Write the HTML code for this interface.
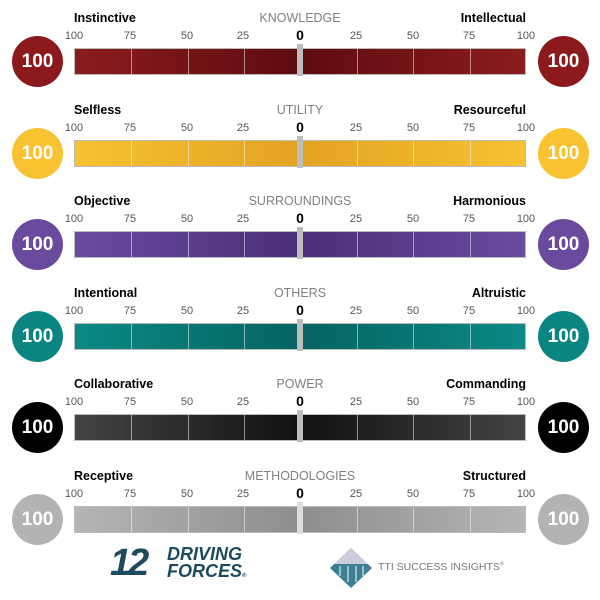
<!DOCTYPE html><html><head><style>
*{margin:0;padding:0}
body{width:600px;height:600px;background:#fff;position:relative;overflow:hidden;font-family:"Liberation Sans",Arial,sans-serif}
.r{position:absolute;left:0;width:600px;height:92px}
.c{position:absolute;top:10px;width:51px;height:51px;border-radius:50%;color:#fff;font-weight:bold;font-size:19px;line-height:51px;text-align:center}
.l{position:absolute;top:-15px;font-weight:bold;font-size:12.5px;color:#000}
.t{position:absolute;top:-15px;left:200px;width:200px;text-align:center;font-size:12.5px;color:#808080}
.k{position:absolute;top:4px;font-size:11px;color:#555;width:30px;margin-left:-15px;text-align:center}
.z{position:absolute;top:1px;left:290px;width:20px;text-align:center;font-weight:bold;font-size:14px}
.b{position:absolute;left:74px;top:22px;width:452px;height:27px;box-sizing:border-box;border:1px solid #bbb}
.g{position:absolute;top:0;width:1px;height:25px;background:rgba(255,255,255,.5)}
.m{position:absolute;left:297px;top:18px;width:6px;height:32px;background:#bdbdbd}
</style></head><body>

<div class="r" style="top:26px">
<div class="l" style="left:74px">Instinctive</div><div class="t">KNOWLEDGE</div><div class="l" style="right:74px">Intellectual</div>
<div class="k" style="left:74px">100</div><div class="k" style="left:130px">75</div><div class="k" style="left:187px">50</div><div class="k" style="left:243px">25</div><div class="z">0</div><div class="k" style="left:356px">25</div><div class="k" style="left:413px">50</div><div class="k" style="left:469px">75</div><div class="k" style="left:526px">100</div>
<div class="b" style="background:linear-gradient(90deg,#8a1c1e,#5e0c0f 50%,#8a1c1e)"><div class="g" style="left:56px"></div><div class="g" style="left:113px"></div><div class="g" style="left:169px"></div><div class="g" style="left:282px"></div><div class="g" style="left:338px"></div><div class="g" style="left:395px"></div></div>
<div class="m"></div>
<div class="c" style="left:12px;background:#8c1a1d">100</div><div class="c" style="left:538px;background:#8c1a1d">100</div></div>

<div class="r" style="top:118px">
<div class="l" style="left:74px">Selfless</div><div class="t">UTILITY</div><div class="l" style="right:74px">Resourceful</div>
<div class="k" style="left:74px">100</div><div class="k" style="left:130px">75</div><div class="k" style="left:187px">50</div><div class="k" style="left:243px">25</div><div class="z">0</div><div class="k" style="left:356px">25</div><div class="k" style="left:413px">50</div><div class="k" style="left:469px">75</div><div class="k" style="left:526px">100</div>
<div class="b" style="background:linear-gradient(90deg,#f7c232,#e3a322 50%,#f7c232)"><div class="g" style="left:56px"></div><div class="g" style="left:113px"></div><div class="g" style="left:169px"></div><div class="g" style="left:282px"></div><div class="g" style="left:338px"></div><div class="g" style="left:395px"></div></div>
<div class="m"></div>
<div class="c" style="left:12px;background:#f9c231">100</div><div class="c" style="left:538px;background:#f9c231">100</div></div>

<div class="r" style="top:209px">
<div class="l" style="left:74px">Objective</div><div class="t">SURROUNDINGS</div><div class="l" style="right:74px">Harmonious</div>
<div class="k" style="left:74px">100</div><div class="k" style="left:130px">75</div><div class="k" style="left:187px">50</div><div class="k" style="left:243px">25</div><div class="z">0</div><div class="k" style="left:356px">25</div><div class="k" style="left:413px">50</div><div class="k" style="left:469px">75</div><div class="k" style="left:526px">100</div>
<div class="b" style="background:linear-gradient(90deg,#6a4c9e,#4a2e7a 50%,#6a4c9e)"><div class="g" style="left:56px"></div><div class="g" style="left:113px"></div><div class="g" style="left:169px"></div><div class="g" style="left:282px"></div><div class="g" style="left:338px"></div><div class="g" style="left:395px"></div></div>
<div class="m"></div>
<div class="c" style="left:12px;background:#6a4a9c">100</div><div class="c" style="left:538px;background:#6a4a9c">100</div></div>

<div class="r" style="top:301px">
<div class="l" style="left:74px">Intentional</div><div class="t">OTHERS</div><div class="l" style="right:74px">Altruistic</div>
<div class="k" style="left:74px">100</div><div class="k" style="left:130px">75</div><div class="k" style="left:187px">50</div><div class="k" style="left:243px">25</div><div class="z">0</div><div class="k" style="left:356px">25</div><div class="k" style="left:413px">50</div><div class="k" style="left:469px">75</div><div class="k" style="left:526px">100</div>
<div class="b" style="background:linear-gradient(90deg,#0b8986,#056461 50%,#0b8986)"><div class="g" style="left:56px"></div><div class="g" style="left:113px"></div><div class="g" style="left:169px"></div><div class="g" style="left:282px"></div><div class="g" style="left:338px"></div><div class="g" style="left:395px"></div></div>
<div class="m"></div>
<div class="c" style="left:12px;background:#0a8582">100</div><div class="c" style="left:538px;background:#0a8582">100</div></div>

<div class="r" style="top:392px">
<div class="l" style="left:74px">Collaborative</div><div class="t">POWER</div><div class="l" style="right:74px">Commanding</div>
<div class="k" style="left:74px">100</div><div class="k" style="left:130px">75</div><div class="k" style="left:187px">50</div><div class="k" style="left:243px">25</div><div class="z">0</div><div class="k" style="left:356px">25</div><div class="k" style="left:413px">50</div><div class="k" style="left:469px">75</div><div class="k" style="left:526px">100</div>
<div class="b" style="background:linear-gradient(90deg,#444,#111 50%,#444)"><div class="g" style="left:56px"></div><div class="g" style="left:113px"></div><div class="g" style="left:169px"></div><div class="g" style="left:282px"></div><div class="g" style="left:338px"></div><div class="g" style="left:395px"></div></div>
<div class="m"></div>
<div class="c" style="left:12px;background:#000">100</div><div class="c" style="left:538px;background:#000">100</div></div>

<div class="r" style="top:484px">
<div class="l" style="left:74px">Receptive</div><div class="t">METHODOLOGIES</div><div class="l" style="right:74px">Structured</div>
<div class="k" style="left:74px">100</div><div class="k" style="left:130px">75</div><div class="k" style="left:187px">50</div><div class="k" style="left:243px">25</div><div class="z">0</div><div class="k" style="left:356px">25</div><div class="k" style="left:413px">50</div><div class="k" style="left:469px">75</div><div class="k" style="left:526px">100</div>
<div class="b" style="background:linear-gradient(90deg,#b5b5b5,#8e8e8e 50%,#b5b5b5)"><div class="g" style="left:56px"></div><div class="g" style="left:113px"></div><div class="g" style="left:169px"></div><div class="g" style="left:282px"></div><div class="g" style="left:338px"></div><div class="g" style="left:395px"></div></div>
<div class="m" style="background:#ddd"></div>
<div class="c" style="left:12px;background:#b3b3b3">100</div><div class="c" style="left:538px;background:#b3b3b3">100</div></div>

<div style="position:absolute;left:110px;top:544px;font-size:38px;font-weight:900;font-style:italic;color:#1d4a5e;letter-spacing:-3px;line-height:38px">12</div>
<div style="position:absolute;left:167px;top:546px;font-size:18px;font-weight:900;font-style:italic;color:#1d4a5e;line-height:17px">DRIVING<br>FORCES<span style="font-size:6px">®</span></div>
<svg style="position:absolute;left:328px;top:546px" width="46" height="44" viewBox="0 0 46 44"><polygon points="23,2 44,22 23,42 2,22" fill="#3b7f93"/><polygon points="23,2 40,18 6,18" fill="#ccd"/><line x1="12" y1="20" x2="12" y2="30" stroke="#fff"/><line x1="20" y1="20" x2="20" y2="36" stroke="#fff"/><line x1="28" y1="20" x2="28" y2="36" stroke="#fff"/><line x1="35" y1="20" x2="35" y2="30" stroke="#fff"/></svg>
<div style="position:absolute;left:378px;top:561px;font-size:10.5px;color:#777">TTI SUCCESS INSIGHTS<sup style="font-size:5px">®</sup></div>
</body></html>
